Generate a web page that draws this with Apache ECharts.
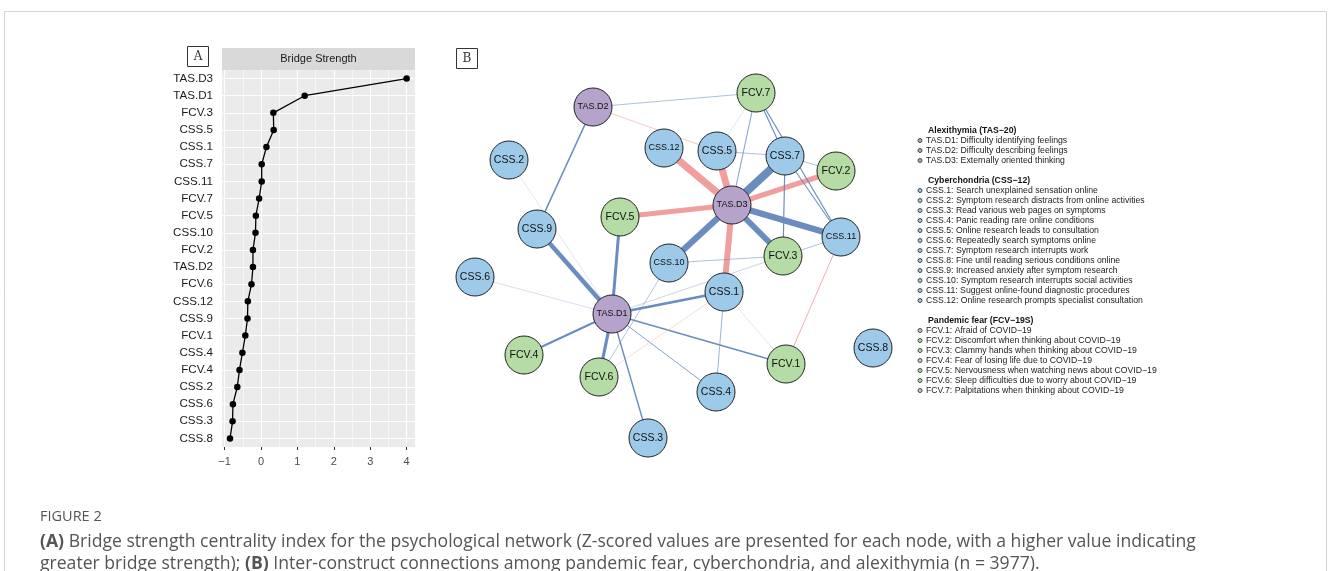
<!DOCTYPE html>
<html>
<head>
<meta charset="utf-8">
<script src="https://cdn.jsdelivr.net/npm/echarts@6/dist/echarts.min.js"></script>
<style>
  html, body { margin: 0; padding: 0; background: #fff; }
  #chart { width: 1328px; height: 571px; }
</style>
</head>
<body>
<div id="chart"></div>
<script>
// Panel A: bridge strength (z-scores), top to bottom
const nodeOrder = ['TAS.D3', 'TAS.D1', 'FCV.3', 'CSS.5', 'CSS.1', 'CSS.7', 'CSS.11', 'FCV.7', 'FCV.5', 'CSS.10', 'FCV.2',
    'TAS.D2', 'FCV.6', 'CSS.12', 'CSS.9', 'FCV.1', 'CSS.4', 'FCV.4', 'CSS.2', 'CSS.6', 'CSS.3', 'CSS.8'];
const bridgeStrength = [4.0, 1.2, 0.34, 0.35, 0.15, 0.02, 0.02, -0.05, -0.14, -0.15, -0.22,
    -0.22, -0.26, -0.36, -0.37, -0.43, -0.51, -0.59, -0.65, -0.77, -0.78, -0.85];
const xTicks = [-1, 0, 1, 2, 3, 4];
const xMinor = [-0.5, 0.5, 1.5, 2.5, 3.5];

// Panel B: network layout (layout units) and edges [from, to, weight]
const netNodes = ['TAS.D2', 'FCV.7', 'CSS.2', 'CSS.12', 'CSS.5', 'CSS.7', 'FCV.2', 'TAS.D3', 'FCV.5', 'CSS.9', 'CSS.11',
    'FCV.3', 'CSS.10', 'CSS.6', 'CSS.1', 'TAS.D1', 'FCV.4', 'FCV.6', 'CSS.4', 'FCV.1', 'CSS.8', 'CSS.3'];
const netX = [153, 316, 69, 224, 277, 345, 396, 292, 180, 97, 401, 343, 229, 35, 284, 172, 84, 159, 276, 346, 433, 208];
const netY = [67, 53, 120, 108, 111, 116, 131, 165, 177, 189, 197, 216, 223, 237, 252, 274, 315, 337, 352, 324, 308, 398];
const netEdges = [
    ['TAS.D3', 'CSS.7', 0.20], ['TAS.D3', 'CSS.11', 0.15], ['TAS.D3', 'FCV.3', 0.15], ['TAS.D3', 'CSS.10', 0.16],
    ['TAS.D3', 'CSS.12', -0.18], ['TAS.D3', 'CSS.5', -0.17], ['TAS.D3', 'FCV.2', -0.13], ['TAS.D3', 'FCV.5', -0.13],
    ['TAS.D3', 'CSS.1', -0.15], ['TAS.D1', 'CSS.9', 0.11], ['TAS.D1', 'FCV.5', 0.075], ['TAS.D1', 'CSS.1', 0.07],
    ['TAS.D1', 'FCV.4', 0.05], ['TAS.D1', 'FCV.6', 0.08], ['TAS.D1', 'CSS.3', 0.035], ['TAS.D1', 'CSS.4', 0.025],
    ['TAS.D1', 'FCV.1', 0.04], ['TAS.D1', 'CSS.6', 0.008], ['TAS.D1', 'CSS.2', 0.005], ['TAS.D1', 'FCV.3', 0.012],
    ['TAS.D2', 'FCV.7', 0.02], ['TAS.D2', 'CSS.9', 0.04], ['TAS.D2', 'CSS.5', -0.02], ['FCV.7', 'TAS.D3', 0.025],
    ['FCV.7', 'CSS.7', 0.03], ['FCV.7', 'CSS.11', 0.03], ['FCV.7', 'CSS.5', 0.005], ['CSS.5', 'CSS.7', 0.02],
    ['CSS.7', 'FCV.2', 0.02], ['CSS.7', 'FCV.3', 0.03], ['CSS.7', 'CSS.11', 0.028], ['CSS.11', 'FCV.3', 0.02],
    ['CSS.11', 'FCV.1', -0.025], ['FCV.3', 'CSS.10', 0.02], ['CSS.1', 'CSS.4', 0.022], ['CSS.1', 'FCV.6', -0.012],
    ['CSS.1', 'FCV.1', 0.005], ['CSS.10', 'FCV.6', 0.018]
];

// Legend text
const tasTitle = 'Alexithymia (TAS\u221220)';
const tasItems = ['TAS.D1: Difficulty identifying feelings', 'TAS.D2: Difficulty describing feelings', 'TAS.D3: Externally oriented thinking'];
const cssTitle = 'Cyberchondria (CSS\u221212)';
const cssItems = ['CSS.1: Search unexplained sensation online', 'CSS.2: Symptom research distracts from online activities',
    'CSS.3: Read various web pages on symptoms', 'CSS.4: Panic reading rare online conditions',
    'CSS.5: Online research leads to consultation', 'CSS.6: Repeatedly search symptoms online',
    'CSS.7: Symptom research interrupts work', 'CSS.8: Fine until reading serious conditions online',
    'CSS.9: Increased anxiety after symptom research', 'CSS.10: Symptom research interrupts social activities',
    'CSS.11: Suggest online-found diagnostic procedures', 'CSS.12: Online research prompts specialist consultation'];
const fcvTitle = 'Pandemic fear (FCV\u221219S)';
const fcvItems = ['FCV.1: Afraid of COVID\u221219', 'FCV.2: Discomfort when thinking about COVID\u221219',
    'FCV.3: Clammy hands when thinking about COVID\u221219', 'FCV.4: Fear of losing life due to COVID\u221219',
    'FCV.5: Nervousness when watching news about COVID\u221219', 'FCV.6: Sleep difficulties due to worry about COVID\u221219',
    'FCV.7: Palpitations when thinking about COVID\u221219'];

const groupColor = { TAS: '#b5a3cc', CSS: '#9ecae9', FCV: '#b4dca4' };
const POS = '106,140,190';
const NEG = '240,158,158';

const chart = echarts.init(document.getElementById('chart'));

const graphic = [];
// outer frame
graphic.push({ type: 'rect', shape: { x: 4.5, y: 11.5, width: 1322, height: 640 }, style: { fill: 'none', stroke: '#d3d3d3', lineWidth: 1 }, silent: true });
// panel tags
[['A', 187.5, 46.5], ['B', 456.5, 48.5]].forEach(([t, x, y]) => {
    graphic.push({ type: 'rect', shape: { x: x, y: y, width: 21, height: 20 }, style: { fill: '#fff', stroke: '#333', lineWidth: 1 } });
    graphic.push({ type: 'text', x: x + 10.5, y: y + 10.5, style: { text: t, fontFamily: 'DejaVu Serif', fontSize: 12, fill: '#333', align: 'center', verticalAlign: 'middle' } });
});
// facet strip
graphic.push({ type: 'rect', shape: { x: 222, y: 48, width: 193, height: 22 }, style: { fill: '#d9d9d9' } });
graphic.push({ type: 'text', x: 318.5, y: 59, style: { text: 'Bridge Strength', fontFamily: 'Liberation Sans', fontSize: 11, fill: '#1a1a1a', align: 'center', verticalAlign: 'middle' } });

// legend block
function legendGroup(title, items, y0, color) {
    graphic.push({ type: 'text', x: 928, y: y0, style: { text: title, fontFamily: 'Liberation Sans', fontSize: 8.7, fontWeight: 'bold', fill: '#111', verticalAlign: 'middle' } });
    items.forEach((s, i) => {
        const y = y0 + 10 * (i + 1);
        graphic.push({ type: 'circle', shape: { cx: 920, cy: y, r: 2 }, style: { fill: color, stroke: '#444', lineWidth: 1 } });
        graphic.push({ type: 'text', x: 926, y: y, style: { text: s, fontFamily: 'Liberation Sans', fontSize: 8.7, fill: '#222', verticalAlign: 'middle' } });
    });
}
legendGroup(tasTitle, tasItems, 130.5, groupColor.TAS);
legendGroup(cssTitle, cssItems, 180.5, groupColor.CSS);
legendGroup(fcvTitle, fcvItems, 320.5, groupColor.FCV);

// caption
graphic.push({ type: 'text', x: 40, y: 517, style: { text: 'FIGURE 2', fontFamily: 'Open Sans', fontSize: 14.5, fill: '#555', verticalAlign: 'middle' } });
const rich = { b: { fontFamily: 'Open Sans', fontSize: 17.6, fontWeight: 'bold', fill: '#555' } };
graphic.push({ type: 'text', x: 40, y: 542, style: { text: '{b|(A)} Bridge strength centrality index for the psychological network (Z-scored values are presented for each node, with a higher value indicating', rich: rich, fontFamily: 'Open Sans', fontSize: 17.6, fill: '#555', verticalAlign: 'middle' } });
graphic.push({ type: 'text', x: 40, y: 564, style: { text: 'greater bridge strength); {b|(B)} Inter-construct connections among pandemic fear, cyberchondria, and alexithymia (n = 3977).', rich: rich, fontFamily: 'Open Sans', fontSize: 17.6, fill: '#555', verticalAlign: 'middle' } });

const gridLines = [];
xTicks.forEach(v => gridLines.push({ xAxis: v, lineStyle: { width: 1.1 } }));
xMinor.forEach(v => gridLines.push({ xAxis: v, lineStyle: { width: 0.6 } }));
nodeOrder.forEach(n => gridLines.push({ yAxis: n, lineStyle: { width: 1.1 } }));

const nodes = netNodes.map((n, i) => ({
    name: n,
    value: [netX[i], netY[i]],
    itemStyle: { color: groupColor[n.slice(0, 3)] },
    label: { fontSize: n.length > 5 ? 9 : 10.5 }
}));
const links = netEdges.map(([a, b, w]) => {
    const aw = Math.abs(w);
    const alpha = Math.min(1, 0.12 + aw / 0.035);
    return {
        source: a, target: b,
        lineStyle: { width: Math.max(0.8, aw * 40), color: `rgba(${w > 0 ? POS : NEG},${alpha.toFixed(2)})` }
    };
});

const option = {
    backgroundColor: '#fff',
    animation: false,
    textStyle: { fontFamily: 'Liberation Sans' },
    graphic: graphic,
    grid: [
        { left: 222, top: 70, width: 193, height: 377, show: true, backgroundColor: '#ebebeb', borderWidth: 0 },
        { left: 440, top: 40, width: 460, height: 440, show: false }
    ],
    xAxis: [
        {
            type: 'value', gridIndex: 0, min: -1.07, max: 4.23,
            axisLine: { show: false },
            axisTick: { show: true, length: 3, lineStyle: { color: '#333' }, customValues: xTicks },
            axisLabel: { color: '#4d4d4d', fontSize: 11, margin: 9, customValues: xTicks, formatter: v => v < 0 ? '\u2212' + Math.abs(v) : String(v) },
            splitLine: { show: false }
        },
        { type: 'value', gridIndex: 1, min: 0, max: 460, show: false }
    ],
    yAxis: [
        {
            type: 'category', gridIndex: 0, data: nodeOrder, inverse: true,
            axisLine: { show: false },
            axisTick: { show: true, length: 3, alignWithLabel: true, lineStyle: { color: '#333' } },
            axisLabel: { color: '#1a1a1a', fontSize: 11.6, margin: 9 },
            splitLine: { show: false }
        },
        { type: 'value', gridIndex: 1, min: 0, max: 440, inverse: true, show: false }
    ],
    series: [
        {
            type: 'scatter', xAxisIndex: 0, yAxisIndex: 0, data: [], silent: true, z: 1,
            markLine: { silent: true, symbol: 'none', label: { show: false }, lineStyle: { color: '#ffffff', type: 'solid' }, data: gridLines, animation: false }
        },
        {
            name: 'Bridge Strength', type: 'line', xAxisIndex: 0, yAxisIndex: 0, z: 5,
            data: nodeOrder.map((n, i) => [bridgeStrength[i], n]),
            symbol: 'circle', symbolSize: 6.5,
            lineStyle: { color: '#000', width: 1.3 },
            itemStyle: { color: '#000' }
        },
        {
            type: 'graph', coordinateSystem: 'cartesian2d', xAxisIndex: 1, yAxisIndex: 1,
            symbolSize: 38, silent: true,
            data: nodes, links: links,
            itemStyle: { borderColor: '#222', borderWidth: 1 },
            label: { show: true, position: 'inside', color: '#111', fontFamily: 'Liberation Sans' },
            lineStyle: { curveness: 0, opacity: 1 },
            emphasis: { disabled: true }
        }
    ]
};
chart.setOption(option);
</script>
</body>
</html>
